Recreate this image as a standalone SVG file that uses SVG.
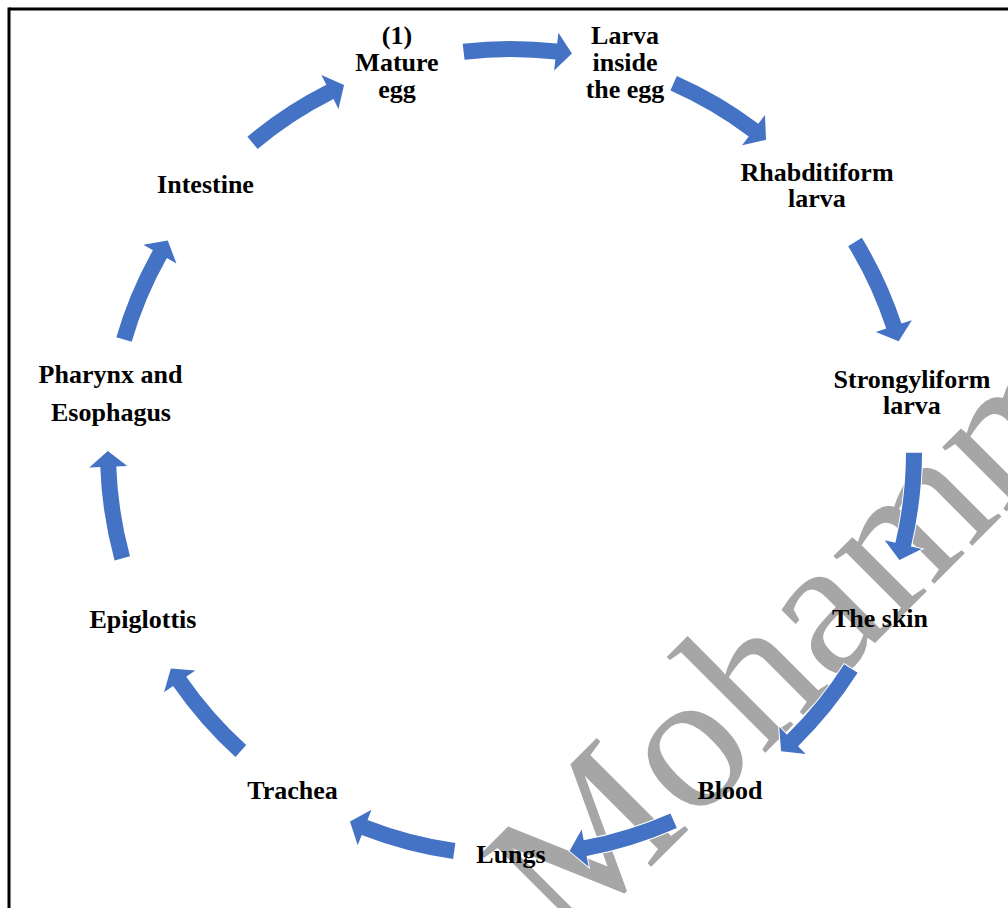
<svg xmlns="http://www.w3.org/2000/svg" xmlns:xlink="http://www.w3.org/1999/xlink" width="1008" height="908" viewBox="0 0 1008 908">
  <style>
    .lbl { font-family: "Liberation Serif", "Times New Roman", serif; font-weight: bold; font-size: 26px; fill: #000; text-anchor: middle; }
    .wm { font-family: "Liberation Serif", "Times New Roman", serif; font-size: 198px; fill: #A6A6A6; }
    .arr { fill: #4472C4; stroke: #FFFFFF; stroke-width: 2; stroke-linejoin: miter; paint-order: stroke; }
  </style>
  <defs>
    <path id="arrowShape" d="M456.64,44.61 A411,411 0 0 1 551.10,42.96 L552.18,32.01 L566.0,52.6 L548.47,69.83 L549.54,58.88 A395,395 0 0 0 458.76,60.47 Z"/>
  </defs>
  <rect x="0" y="0" width="1008" height="908" fill="#FFFFFF"/>
  <g id="frame">
    <line x1="9" y1="9" x2="1008" y2="9" stroke="#000" stroke-width="3"/>
    <line x1="9" y1="7.5" x2="9" y2="908" stroke="#000" stroke-width="3"/>
  </g>
  <g id="watermark">
    <text class="wm" x="568" y="950" transform="rotate(-45 568 950)">Mohamm</text>
  </g>
  <g id="connectors">
    <use xlink:href="#arrowShape" class="arr" transform="rotate(0.85 511 452)"/>
    <use xlink:href="#arrowShape" class="arr" transform="rotate(31.4 511 452)"/>
    <use xlink:href="#arrowShape" class="arr" transform="rotate(66.2 511 452)"/>
    <use xlink:href="#arrowShape" class="arr" transform="rotate(97.7 511 452)"/>
    <use xlink:href="#arrowShape" class="arr" transform="rotate(130.1 511 452)"/>
    <use xlink:href="#arrowShape" class="arr" transform="rotate(163.8 511 452)"/>
    <use xlink:href="#arrowShape" class="arr" transform="rotate(195.7 511 452)"/>
    <use xlink:href="#arrowShape" class="arr" transform="rotate(229.7 511 452)"/>
    <use xlink:href="#arrowShape" class="arr" transform="rotate(262.3 511 452)"/>
    <use xlink:href="#arrowShape" class="arr" transform="rotate(293.8 511 452)"/>
    <use xlink:href="#arrowShape" class="arr" transform="rotate(327.7 511 452)"/>
  </g>
  <g id="node-mature-egg">
    <text class="lbl" x="397" y="44">(1)<tspan x="397" dy="27">Mature</tspan><tspan x="397" dy="27">egg</tspan></text>
  </g>
  <g id="node-larva-inside-egg">
    <text class="lbl" x="625" y="44">Larva<tspan x="625" dy="27">inside</tspan><tspan x="625" dy="27">the egg</tspan></text>
  </g>
  <g id="node-rhabditiform">
    <text class="lbl" x="817" y="181">Rhabditiform<tspan x="817" dy="26">larva</tspan></text>
  </g>
  <g id="node-strongyliform">
    <text class="lbl" x="912" y="388">Strongyliform<tspan x="912" dy="26">larva</tspan></text>
  </g>
  <g id="node-skin">
    <text class="lbl" x="880" y="627">The skin</text>
  </g>
  <g id="node-blood">
    <text class="lbl" x="730" y="799">Blood</text>
  </g>
  <g id="node-lungs">
    <text class="lbl" x="511" y="863">Lungs</text>
  </g>
  <g id="node-trachea">
    <text class="lbl" x="292.5" y="799">Trachea</text>
  </g>
  <g id="node-epiglottis">
    <text class="lbl" x="143" y="628">Epiglottis</text>
  </g>
  <g id="node-pharynx">
    <text class="lbl" x="110.5" y="383">Pharynx and<tspan x="111" dy="38">Esophagus</tspan></text>
  </g>
  <g id="node-intestine">
    <text class="lbl" x="205.5" y="193">Intestine</text>
  </g>
</svg>
